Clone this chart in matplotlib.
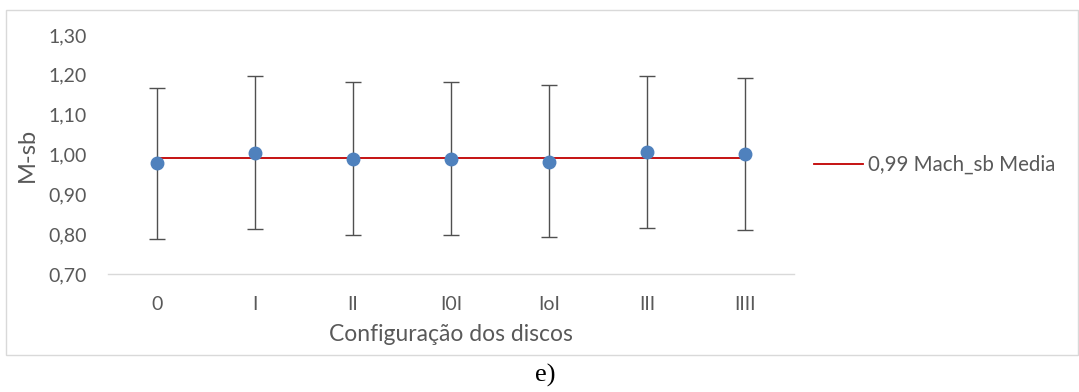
import matplotlib
matplotlib.use("Agg")
import matplotlib.pyplot as plt
from matplotlib.patches import Rectangle
import numpy as np

# Disc configurations and measured M-sb with error limits
configs = ["0", "I", "II", "I0I", "IoI", "III", "IIII"]
m_sb = [0.979, 1.004, 0.988, 0.988, 0.982, 1.007, 1.001]
err_up = [0.189, 0.192, 0.193, 0.193, 0.192, 0.191, 0.191]
err_down = [0.190, 0.191, 0.190, 0.190, 0.190, 0.191, 0.190]
mean_value = 0.99

yticks = [0.70, 0.80, 0.90, 1.00, 1.10, 1.20, 1.30]

W, H = 1079, 392
fig = plt.figure(figsize=(W / 100, H / 100), dpi=100)
plt.rcParams["font.family"] = ["Lato", "DejaVu Sans"]
text_gray = "#595959"

# chart frame
fig.patches.append(Rectangle((6 / W, 1 - 355 / H), (W - 7) / W, (355 - 10) / H,
                             transform=fig.transFigure, fill=False,
                             edgecolor="#D9D9D9", linewidth=1.0))

ax = fig.add_axes([108 / W, 1 - 274 / H, 686 / W, (274 - 35) / H])
x = np.arange(len(configs))

ax.plot(x, [mean_value] * len(configs), color="#C00000", linewidth=1.3,
        zorder=2, label=f"{mean_value:.2f}".replace(".", ",") + " Mach_sb Media")
ax.errorbar(x, m_sb, yerr=[err_down, err_up], fmt="none", ecolor="#505050",
            elinewidth=1.0, capsize=5.5, capthick=1.0, zorder=1)
ax.plot(x, m_sb, linestyle="none", marker="o", markersize=9,
        color="#4F81BD", zorder=3)

ax.set_xlim(-0.5, len(configs) - 0.5)
ax.set_ylim(0.70, 1.30)
ax.set_yticks(yticks)
ax.set_yticklabels([f"{v:.2f}".replace(".", ",") for v in yticks])
ax.set_xticks(x)
ax.set_xticklabels(configs)
ax.tick_params(axis="both", length=0, colors=text_gray, labelsize=14)
ax.tick_params(axis="y", pad=15)
ax.tick_params(axis="x", pad=16)
for side in ["left", "right", "top"]:
    ax.spines[side].set_visible(False)
ax.spines["bottom"].set_color("#D9D9D9")
ax.spines["bottom"].set_linewidth(1.0)

ax.set_xlabel("Configuração dos discos", color=text_gray, fontsize=16.5, labelpad=8)
ax.set_ylabel("M-sb", color=text_gray, fontsize=17, labelpad=8)

leg = ax.legend(loc="center left", bbox_to_anchor=(814 / W, 1 - 165 / H),
                bbox_transform=fig.transFigure, frameon=False, fontsize=14.8,
                handlelength=2.4, handletextpad=0.25, borderpad=0, borderaxespad=0)
for t in leg.get_texts():
    t.set_color(text_gray)

fig.text(545 / W, 1 - 375 / H, "e)", ha="center", va="center",
         fontsize=19, family=["Liberation Serif", "DejaVu Serif"], color="black")

fig.savefig("out.png", dpi=100)
